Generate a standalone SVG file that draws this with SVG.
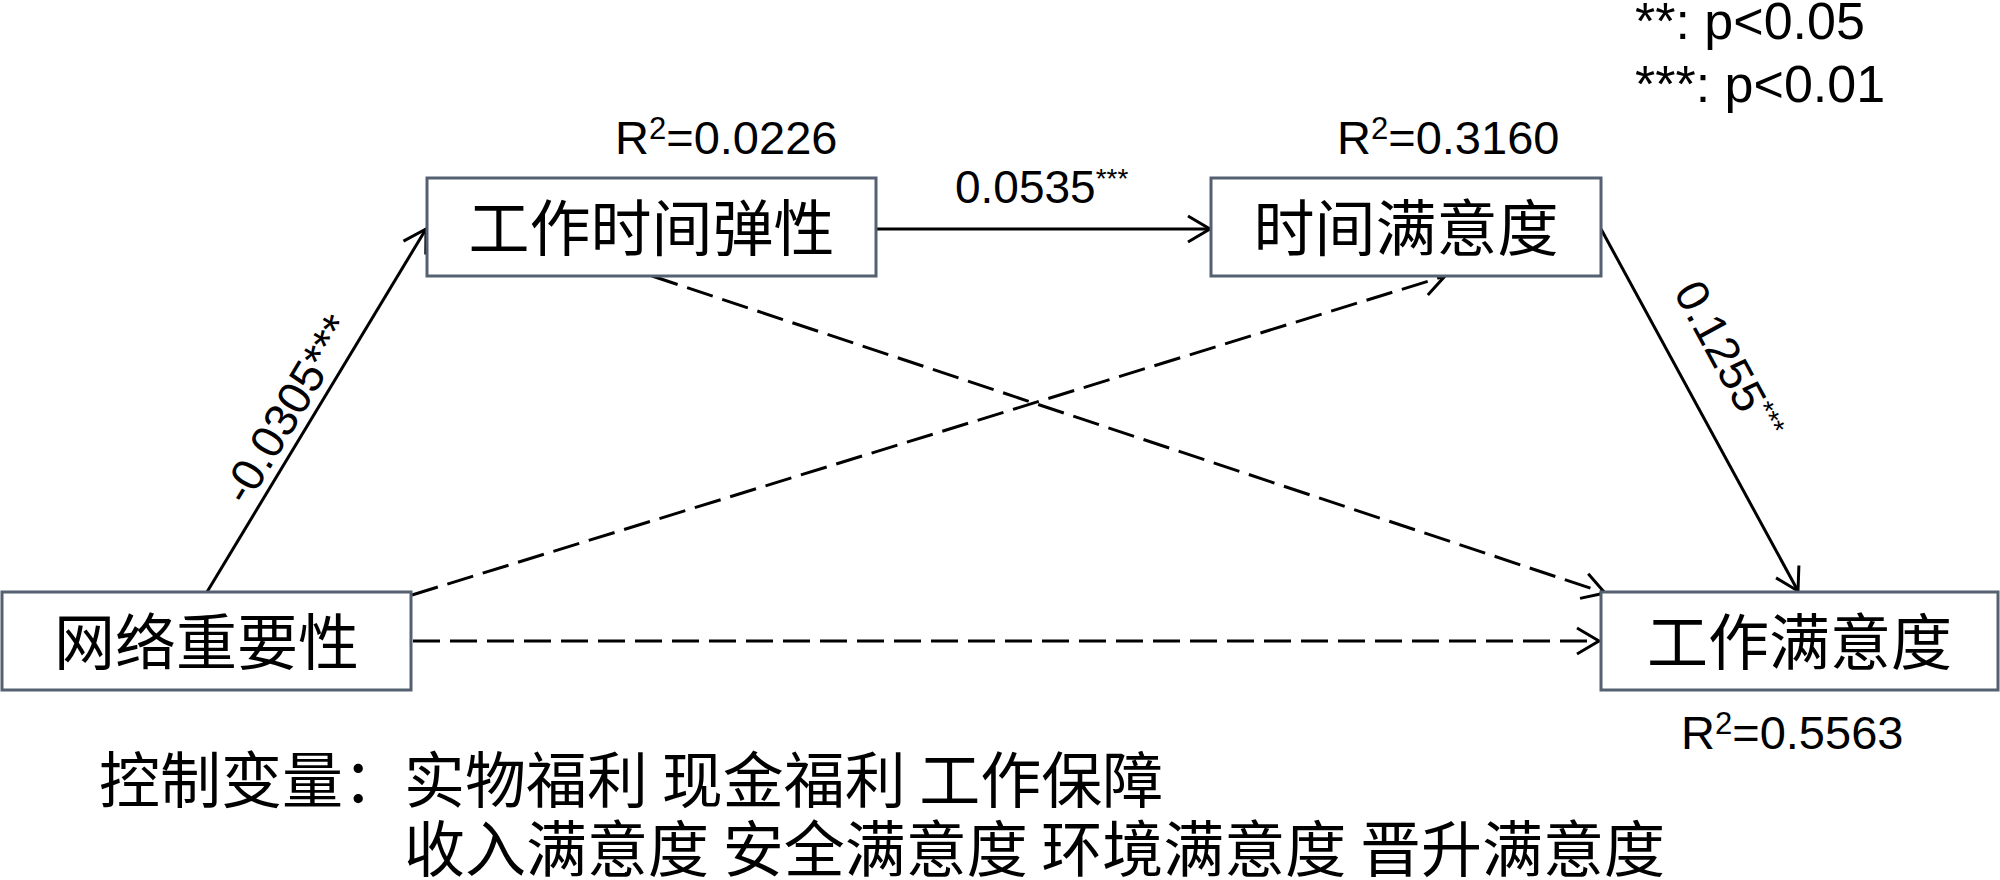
<svg xmlns="http://www.w3.org/2000/svg" width="2000" height="880" viewBox="0 0 2000 880">
<style>
.box{fill:#ffffff;stroke:#556070;stroke-width:3}
.cjk{font-family:"Noto Sans CJK SC","Noto Sans",sans-serif;font-size:61px;fill:#000}
.lbl{font-family:"Liberation Sans",Arial,sans-serif;font-size:47px;fill:#000}
.sup{font-size:28px}
.sup2{font-size:31px}
.edge{stroke:#000;stroke-width:3;fill:none}
.dash{stroke-dasharray:27 10}
</style>
<defs>
<marker id="arr" markerUnits="userSpaceOnUse" markerWidth="40" markerHeight="40" viewBox="-30 -20 40 40" refX="0" refY="0" orient="auto">
<path d="M-22,-13 L0,0 L-22,13" fill="none" stroke="#000" stroke-width="3"/>
</marker>
</defs>
<rect width="2000" height="880" fill="#fff"/>
<g id="connectors">
<line class="edge" x1="207" y1="592" x2="426" y2="229" marker-end="url(#arr)"/>
<line class="edge" x1="876" y1="229" x2="1210" y2="229" marker-end="url(#arr)"/>
<line class="edge" x1="1601" y1="229" x2="1798" y2="591" marker-end="url(#arr)"/>
<line class="edge dash" x1="652" y1="276" x2="1605" y2="593" marker-end="url(#arr)"/>
<line class="edge dash" x1="412" y1="595" x2="1445" y2="276" marker-end="url(#arr)"/>
<line class="edge dash" x1="413" y1="641" x2="1599" y2="641" marker-end="url(#arr)"/>
<text class="lbl" transform="translate(247,507) rotate(-58.9)" style="font-size:46px">-0.0305***</text>
<text class="lbl" x="955" y="203" style="font-size:46px">0.0535<tspan class="sup" dy="-15">***</tspan></text>
<text class="lbl" transform="translate(1673,292) rotate(61.4)" style="font-size:46px">0.1255<tspan class="sup" dy="-15">***</tspan></text>
</g>
<g id="node-network">
<rect class="box" x="2" y="592" width="409" height="98"/>
<text class="cjk" x="206.5" y="665" text-anchor="middle">网络重要性</text>
</g>
<g id="node-flex">
<rect class="box" x="427" y="178" width="449" height="98"/>
<text class="cjk" x="651.5" y="251" text-anchor="middle">工作时间弹性</text>
<text class="lbl" x="615" y="154">R<tspan class="sup2" dy="-15">2</tspan><tspan dy="15">=0.0226</tspan></text>
</g>
<g id="node-timesat">
<rect class="box" x="1211" y="178" width="390" height="98"/>
<text class="cjk" x="1406" y="251" text-anchor="middle">时间满意度</text>
<text class="lbl" x="1337" y="154">R<tspan class="sup2" dy="-15">2</tspan><tspan dy="15">=0.3160</tspan></text>
</g>
<g id="node-jobsat">
<rect class="box" x="1601" y="592" width="397" height="98"/>
<text class="cjk" x="1799.5" y="665" text-anchor="middle">工作满意度</text>
<text class="lbl" x="1681" y="749">R<tspan class="sup2" dy="-15">2</tspan><tspan dy="15">=0.5563</tspan></text>
</g>
<g id="legend">
<text class="lbl" x="1635" y="39" style="font-size:52px">**: p&lt;0.05</text>
<text class="lbl" x="1635" y="102" style="font-size:52px">***: p&lt;0.01</text>
</g>
<g id="controls">
<text class="cjk" x="99" y="803">控制变量：实物福利 现金福利 工作保障</text>
<text class="cjk" x="404" y="872">收入满意度 安全满意度 环境满意度 晋升满意度</text>
</g>
</svg>
